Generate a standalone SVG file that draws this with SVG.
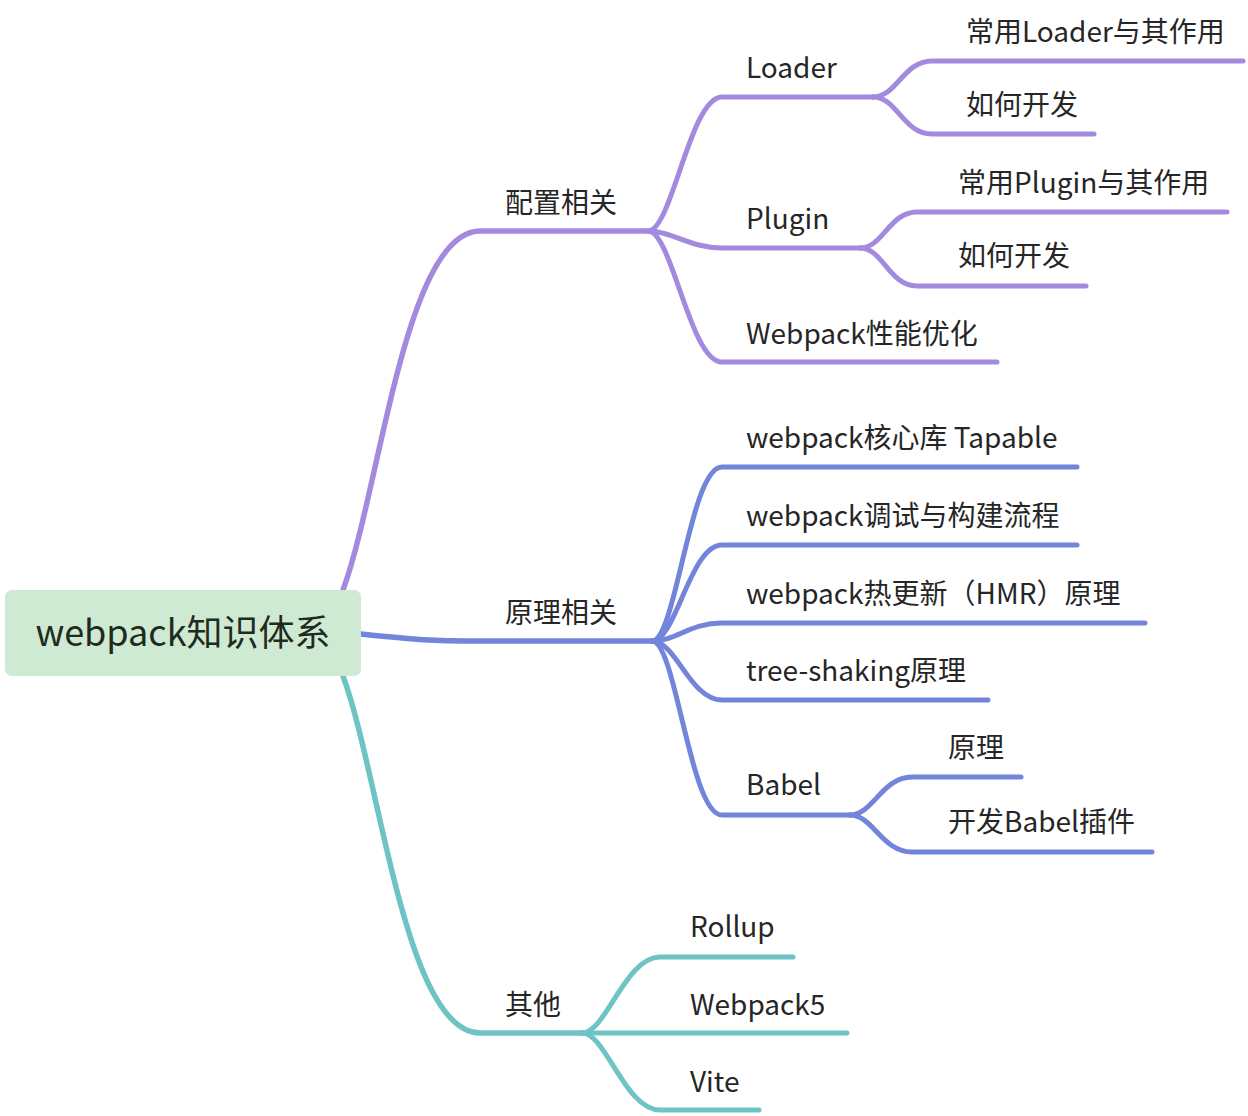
<svg xmlns="http://www.w3.org/2000/svg" width="1248" height="1116" viewBox="0 0 1248 1116">
<style>
.t{font-family:"Noto Sans CJK SC","Noto Sans",sans-serif;font-size:28px;fill:#262626}
.root{font-family:"Noto Sans CJK SC","Noto Sans",sans-serif;font-size:36px;fill:#1f2b20}
.c{fill:none;stroke-width:5;stroke-linecap:round;stroke-linejoin:round}
.m{stroke-width:5.5}
.p{stroke:#a38ade}
.b{stroke:#7384db}
.g{stroke:#6ec4c4}
</style>
<rect width="1248" height="1116" fill="#ffffff"/>
<g id="connectors">
<path class="c m p" d="M343,590 C380,490 405,231 480,231 L648,231"/>
<path class="c p" d="M648,231 C672,231 690,97 722,97 L873,97"/>
<path class="c p" d="M648,231 C672,231 690,248 722,248 L860,248"/>
<path class="c p" d="M648,231 C672,231 690,362 722,362 L997,362"/>
<path class="c p" d="M873,97 C897,97 903,61 932,61 L1243,61"/>
<path class="c p" d="M873,97 C897,97 903,134 932,134 L1094,134"/>
<path class="c p" d="M860,248 C883,248 889,212 917,212 L1227,212"/>
<path class="c p" d="M860,248 C883,248 889,286 917,286 L1086,286"/>
<path class="c m b" d="M361,634 C420,640 430,641 480,641 L652,641"/>
<path class="c b" d="M652,641 C676,641 690,467 722,467 L1077,467"/>
<path class="c b" d="M652,641 C676,641 690,545 722,545 L1077,545"/>
<path class="c b" d="M652,641 C676,641 690,623 722,623 L1145,623"/>
<path class="c b" d="M652,641 C676,641 690,700 722,700 L988,700"/>
<path class="c b" d="M652,641 C676,641 690,815 722,815 L850,815"/>
<path class="c b" d="M850,815 C873,815 882,777 912,777 L1021,777"/>
<path class="c b" d="M850,815 C873,815 882,852 912,852 L1152,852"/>
<path class="c m g" d="M343,676 C380,776 405,1033 480,1033 L582,1033"/>
<path class="c g" d="M582,1033 C606,1033 625,957 660,957 L793,957"/>
<path class="c g" d="M582,1033 L847,1033"/>
<path class="c g" d="M582,1033 C606,1033 625,1110 660,1110 L759,1110"/>
</g>
<g id="root">
<rect x="5" y="590" width="356" height="86" rx="7" fill="#cfead2"/>
<text class="root" x="183" y="646" text-anchor="middle">webpack知识体系</text>
</g>
<g id="n-config"><text class="t" x="505" y="213">配置相关</text></g>
<g id="n-principle"><text class="t" x="505" y="623">原理相关</text></g>
<g id="n-other"><text class="t" x="505" y="1015">其他</text></g>
<g id="n-loader"><text class="t" x="746" y="78">Loader</text></g>
<g id="n-plugin"><text class="t" x="746" y="229">Plugin</text></g>
<g id="n-perf"><text class="t" x="746" y="344">Webpack性能优化</text></g>
<g id="n-loader-common"><text class="t" x="966" y="42">常用Loader与其作用</text></g>
<g id="n-loader-dev"><text class="t" x="966" y="115">如何开发</text></g>
<g id="n-plugin-common"><text class="t" x="958" y="193">常用Plugin与其作用</text></g>
<g id="n-plugin-dev"><text class="t" x="958" y="266">如何开发</text></g>
<g id="n-tapable"><text class="t" x="746" y="448">webpack核心库 Tapable</text></g>
<g id="n-debug"><text class="t" x="746" y="526">webpack调试与构建流程</text></g>
<g id="n-hmr"><text class="t" x="746" y="604">webpack热更新（HMR）原理</text></g>
<g id="n-tree"><text class="t" x="746" y="681">tree-shaking原理</text></g>
<g id="n-babel"><text class="t" x="746" y="795">Babel</text></g>
<g id="n-babel-principle"><text class="t" x="948" y="758">原理</text></g>
<g id="n-babel-plugin"><text class="t" x="948" y="832">开发Babel插件</text></g>
<g id="n-rollup"><text class="t" x="690" y="937">Rollup</text></g>
<g id="n-webpack5"><text class="t" x="690" y="1015">Webpack5</text></g>
<g id="n-vite"><text class="t" x="690" y="1092">Vite</text></g>
</svg>
